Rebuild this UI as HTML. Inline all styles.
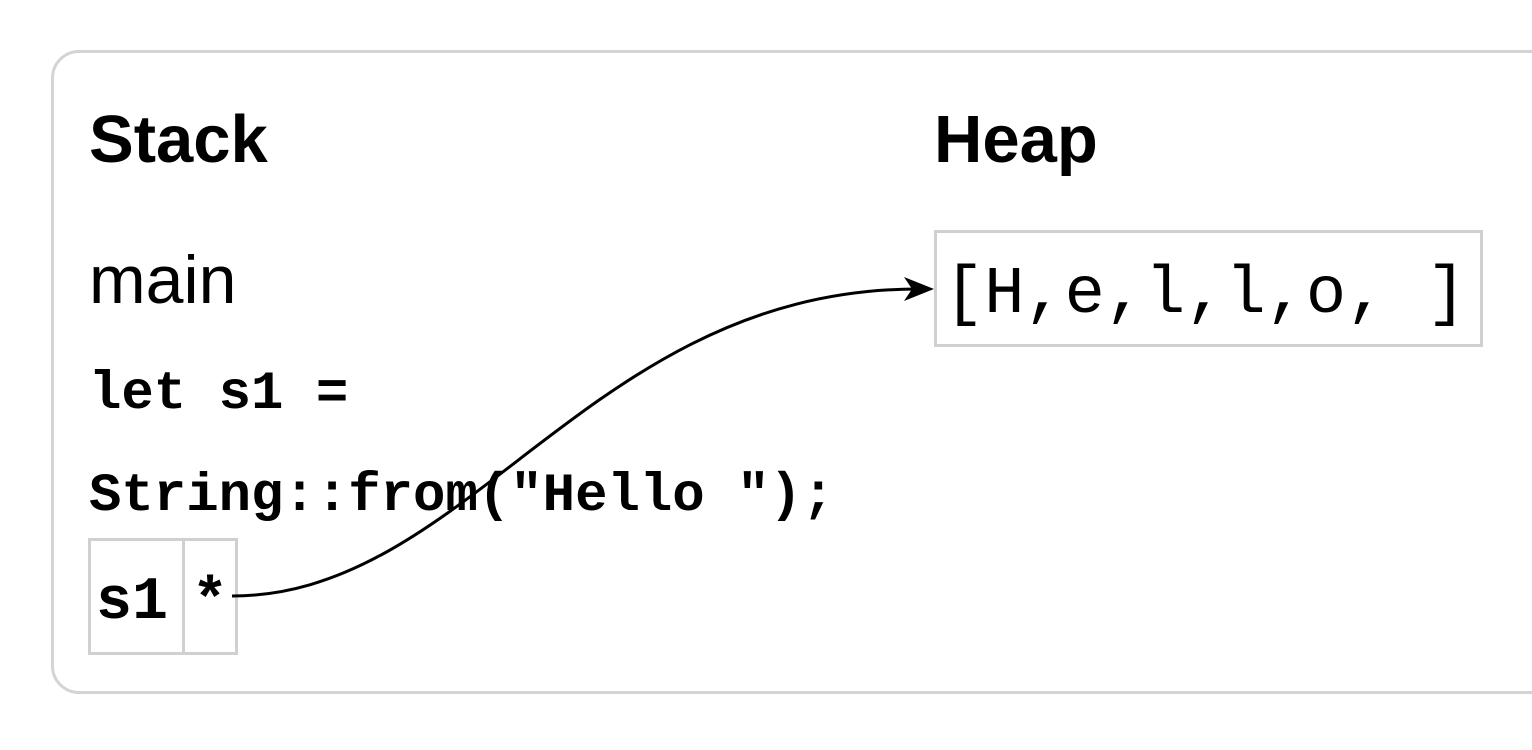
<!DOCTYPE html>
<html><head><meta charset="utf-8"><style>
html,body{margin:0;padding:0;background:#fff;}
body{width:1532px;height:750px;position:relative;overflow:hidden;font-family:"Liberation Sans",Arial,sans-serif;}
.outer{position:absolute;left:51px;top:50px;width:1560px;height:638px;border:3px solid #d4d4d4;border-radius:28px;}
.t{position:absolute;white-space:pre;line-height:1;color:#000;}
.mono{font-family:"Liberation Mono","Courier New",monospace;}
.box{position:absolute;border:3px solid #d0d0d0;box-sizing:border-box;}
</style></head><body>
<div class="outer"></div>
<div class="t" style="left:89px;top:106px;font-size:67px;font-weight:bold;">Stack</div>
<div class="t" style="left:934px;top:106px;font-size:67px;font-weight:bold;">Heap</div>
<div class="t" style="left:89px;top:246px;font-size:68px;">main</div>
<div class="t mono" style="left:89px;top:368px;font-size:54px;font-weight:bold;">let s1 =</div>
<div class="t mono" style="left:89px;top:470px;font-size:54px;font-weight:bold;">String::from("Hello ");</div>
<div class="box" style="left:88px;top:538px;width:97px;height:117px;"></div>
<div class="box" style="left:182px;top:538px;width:56px;height:117px;"></div>
<div class="t mono" style="left:96px;top:573px;font-size:60px;font-weight:bold;">s1</div>
<div class="t mono" style="left:192px;top:573px;font-size:60px;font-weight:bold;">*</div>
<div class="box" style="left:934px;top:230px;width:549px;height:117px;"></div>
<div class="t mono" style="left:944px;top:262px;font-size:67px;">[H,e,l,l,o, ]</div>
<svg style="position:absolute;left:0;top:0" width="1532" height="750">
<path d="M232 596 C 470 596, 590 289, 918 289" fill="none" stroke="#000" stroke-width="3"/>
<polygon points="934,289 904,277 912,289 904,301" fill="#000"/>
</svg>
</body></html>
